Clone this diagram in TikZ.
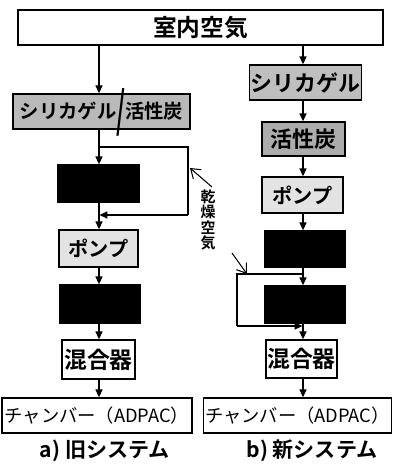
\documentclass[tikz,border=0pt]{standalone}
\usepackage{fontspec}
\usepackage{graphicx}
\setmainfont{Noto Sans CJK JP}[BoldFont={Noto Sans CJK JP Bold}]
\usetikzlibrary{arrows.meta}
\begin{document}
\begin{tikzpicture}[x=0.02cm,y=-0.02cm,
  bx/.style n args={2}{draw,line width=0.8pt,inner sep=0pt,
    minimum width=#1*0.02cm,minimum height=#2*0.02cm,
    font=\fontsize{12.5}{13}\selectfont\bfseries},
  ar/.style={line width=0.8pt,-{Triangle[length=4.5pt,width=4pt]}},
  ln/.style={line width=0.8pt},
  lbl/.style={line width=0.6pt,-{Straight Barb[length=5pt,width=7pt]}},
  blk/.style={fill=black},
  captxt/.style={font=\fontsize{12}{13}\selectfont\bfseries}]
\useasboundingbox (0,0) rectangle (393,468);
% top
\node[bx={365}{35},font=\fontsize{13.5}{14}\selectfont\bfseries] (top) at (200.5,27.5) {室内空気};
% left column
\coordinate (la) at (99,0);
\node[bx={177}{35},fill=gray!55,font=\fontsize{11}{12}\selectfont\bfseries] (L1) at (101.5,111.5) {シリカゲル\smash{\raisebox{-0.45em}{\scalebox{1.2}[2.5]{/}}}活性炭};
\node[bx={81}{37},blk] (LB1) at (98.5,183.5) {};
\node[bx={79}{37},fill=gray!22,font=\fontsize{11.5}{12}\selectfont\bfseries] (Lp) at (98.5,248.5) {ポンプ};
\node[bx={80}{38},blk] (LB2) at (100,304) {};
\node[bx={73}{39},font=\fontsize{13}{14}\selectfont\bfseries] (Lm) at (98.5,359.5) {混合器};
\node[bx={190}{35},font=\fontsize{10.4}{12}\selectfont] (Lc) at (97,415.5) {チャンバー（ADPAC）};
\node[captxt] (ca) at (105,451) {a) 旧システム};
\draw[ar] (top.south -| la) -- (L1.north -| la);
\draw[ar] (L1.south -| la) -- (LB1.north -| la);
\draw[ar] (LB1.south -| la) -- (Lp.north -| la);
\draw[ar] (Lp.south -| la) -- (LB2.north -| la);
\draw[ar] (LB2.south -| la) -- (Lm.north -| la);
\draw[ar] (Lm.south -| la) -- (Lc.north -| la);
\coordinate (lb1) at (99,147);
\coordinate (lb2) at (188,147);
\coordinate (lb3) at (188,215);
\coordinate (lb4) at (99.5,215);
\draw[ln] (lb1) -- (lb2) -- (lb3);
\draw[ar] (lb3) -- (lb4);
% right column
\coordinate (ra) at (303,0);
\node[bx={112}{35},fill=gray!50] (Rs) at (305.5,82.5) {シリカゲル};
\node[bx={83}{34},fill=gray!65] (Rc) at (303.5,139) {活性炭};
\node[bx={81}{36},fill=gray!22,font=\fontsize{11.5}{12}\selectfont\bfseries] (Rp) at (302.5,195) {ポンプ};
\node[bx={80}{36},blk] (RB1) at (305,249) {};
\node[bx={80}{37},blk] (RB2) at (305,304.5) {};
\node[bx={71}{38},font=\fontsize{13}{14}\selectfont\bfseries] (Rm) at (301.5,359) {混合器};
\node[bx={188}{35},font=\fontsize{10.4}{12}\selectfont] (Rc2) at (297.5,415.5) {チャンバー（ADPAC）};
\node[captxt] (cb) at (312,451) {b) 新システム};
\draw[ar] (top.south -| ra) -- (Rs.north -| ra);
\draw[ar] (Rs.south -| ra) -- (Rc.north -| ra);
\draw[ar] (Rc.south -| ra) -- (Rp.north -| ra);
\draw[ar] (Rp.south -| ra) -- (RB1.north -| ra);
\draw[ar] (RB1.south -| ra) -- (RB2.north -| ra);
\draw[ar] (RB2.south -| ra) -- (Rm.north -| ra);
\draw[ar] (Rm.south -| ra) -- (Rc2.north -| ra);
\coordinate (rb1) at (303,274);
\coordinate (rb2) at (237,274);
\coordinate (rb3) at (237,326);
\coordinate (rb4) at (302.5,326);
\draw[ln] (rb1) -- (rb2) -- (rb3);
\draw[ar] (rb3) -- (rb4);
% dry air label
\node[font=\fontsize{8.5}{8.8}\selectfont\bfseries,align=center,inner sep=0pt] (dry) at (208,220) {乾\\燥\\空\\気};
\coordinate (d1s) at (212,187);
\coordinate (d1e) at (190,168);
\coordinate (d2s) at (232,253);
\coordinate (d2e) at (247,274);
\draw[lbl] (d1s) -- (d1e);
\draw[lbl] (d2s) -- (d2e);
\end{tikzpicture}
\end{document}
